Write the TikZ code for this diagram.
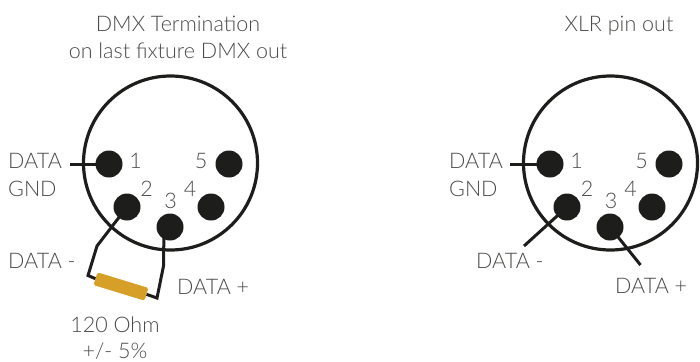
\documentclass[tikz,border=0pt]{standalone}
\usepackage{fontspec}
\setmainfont{Lato Light}
\definecolor{ink}{HTML}{1D1D1B}
\definecolor{txt}{HTML}{4A4A48}
\definecolor{res}{HTML}{D69F27}
\tikzset{
  pin/.style={circle,fill=ink,minimum size=27pt,inner sep=0pt},
  shell/.style={circle,draw=ink,line width=3.2pt,minimum size=174pt,inner sep=0pt},
  wire/.style={draw=ink,line width=3pt,line join=miter},
  lab/.style={text=txt,font=\fontsize{21.5}{21.5}\selectfont,inner sep=0pt,anchor=base west},
  labc/.style={lab,anchor=base},
  resistor/.style={fill=res,rounded corners=1.5pt,minimum width=53pt,minimum height=13pt,inner sep=0pt,rotate=-17}
}
\begin{document}
\begin{tikzpicture}[x=1pt,y=-1pt]
\useasboundingbox (0,0) rectangle (700,361);
% left connector
\node[shell] (sL) at (170.5,163) {};
\coordinate (dL) at (70,164);
\coordinate (kL1) at (97,246);
\coordinate (kL2) at (88,275.5);
\coordinate (kL3) at (157,298);
\coordinate (kL4) at (163.5,266);
\coordinate (p2w) at (127,207);
\coordinate (p3w) at (164,227);
\node[pin] (a1) at (109,164) {};
\node[pin] (a5) at (229,164) {};
\node[pin] (a2) at (127,207) {};
\node[pin] (a4) at (211,207) {};
\node[pin] (a3) at (170,227) {};
\node[resistor] (r) at (121,286.5) {};
\draw[wire] (dL) -- (a1.center);
\draw[wire] (a2.center) -- (kL1) -- (kL2) -- (r.west);
\draw[wire] (r.east) -- (kL3) -- (kL4) -- (p3w);
\node[resistor] at (121,286.5) {};
\node[labc] (t1) at (178,32) {DMX Termination};
\node[labc] (t2) at (178,59) {on last fixture DMX out};
\node[lab] (l1) at (8,168) {DATA};
\node[lab] (l2) at (8,196) {GND};
\node[lab] (l3) at (8,268) {DATA -};
\node[lab] (l4) at (177,294) {DATA +};
\node[labc] (l5) at (115,332) {120 Ohm};
\node[labc] (l6) at (115,358) {+/- 5\%};
\node[labc] (n1) at (135.5,168) {1};
\node[labc] (n5) at (201,168) {5};
\node[labc] (n2) at (146.5,196) {2};
\node[labc] (n4) at (190,196) {4};
\node[labc] (n3) at (170.5,208) {3};
% right connector
\node[shell] (sR) at (610.5,163) {};
\coordinate (dR) at (510,164);
\coordinate (eR2) at (524,246);
\coordinate (eR3) at (640.5,265);
\node[pin] (b1) at (550,164) {};
\node[pin] (b5) at (669,164) {};
\node[pin] (b2) at (567,207) {};
\node[pin] (b4) at (652,207) {};
\node[pin] (b3) at (610,227) {};
\draw[wire] (dR) -- (b1.center);
\draw[wire] (b2.center) -- (eR2);
\draw[wire] (b3.center) -- (eR3);
\node[labc] (t3) at (619,32) {XLR pin out};
\node[lab] (m1) at (449,168) {DATA};
\node[lab] (m2) at (449,196) {GND};
\node[lab] (m3) at (476,268) {DATA -};
\node[lab] (m4) at (615,293) {DATA +};
\node[labc] (o1) at (576.5,168) {1};
\node[labc] (o5) at (641.5,168) {5};
\node[labc] (o2) at (587,196) {2};
\node[labc] (o4) at (630.5,196) {4};
\node[labc] (o3) at (611,208) {3};
\end{tikzpicture}
\end{document}
